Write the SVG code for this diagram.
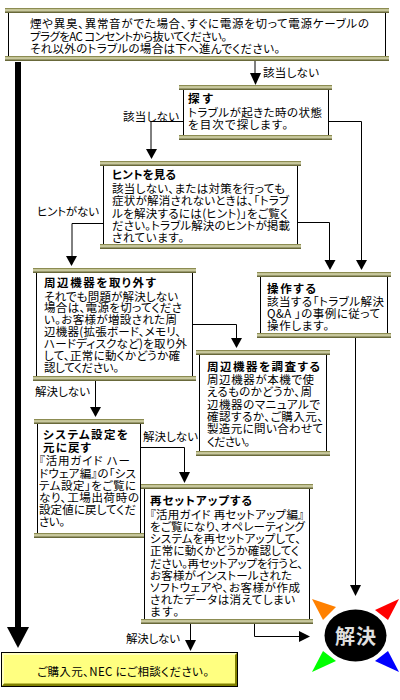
<svg xmlns="http://www.w3.org/2000/svg" width="400" height="700" viewBox="0 0 400 700">
<style>
text{font-family:"Noto Sans CJK JP","Liberation Sans",sans-serif;font-size:11.5px;fill:#000;dominant-baseline:central;font-feature-settings:"palt"}
.b{font-weight:700}
.box{fill:#fff;stroke:#000;stroke-width:1}
.bar{fill:url(#g);stroke:none}
.c{fill:none;stroke:#000;stroke-width:1}
</style>
<defs>
<linearGradient id="g" x1="0" y1="0" x2="0" y2="1"><stop offset="0" stop-color="#707030"/><stop offset=".4" stop-color="#e0e0b8"/><stop offset="1" stop-color="#505020"/></linearGradient>
</defs>
<rect width="400" height="700" fill="#fff"/>
<g id="connectors">
<path class="c" d="M255 60V75"/><path d="M250 73h11l-5.500 12z"/>
<path class="c" d="M183 121.500H151V150"/><path d="M146 149h11l-5.500 10z"/>
<path class="c" d="M328 121.500H361.500V261"/><path d="M356 260h11l-5.500 10z"/>
<path class="c" d="M297 222.500H329.500V261"/><path d="M324.500 260h11l-5.500 10z"/>
<path class="c" d="M103 223.500H72V257"/><path d="M66 256h11l-5.500 10z"/>
<path class="c" d="M192 324.500H236.500V339"/><path d="M231 338h11l-5.500 10z"/>
<path class="c" d="M95.500 381V408"/><path d="M90 407h11l-5.500 10z"/>
<path class="c" d="M140 447.500H184.500V473"/><path d="M179 472h11l-5.500 11z"/>
<path class="c" d="M355.500 337V586"/><path d="M350 585h11l-5.500 11z"/>
<path class="c" d="M190.500 623V641"/><path d="M185 640h11l-5.500 11z"/>
<path class="c" d="M254.500 623V636.500H300"/><path d="M299 631v11l11-5.500z"/>
<rect x="15" y="62" width="6" height="566" fill="#000"/><path d="M7 627h22l-11 21z"/>
</g>
<g id="n-top">
<rect class="box" x="8.500" y="10" width="377" height="48"/>
<rect class="bar" x="5" y="8" width="384" height="5"/><rect class="bar" x="5" y="56" width="384" height="5"/>
<text x="30" y="23" textLength="339">煙や異臭、異常音がでた場合、すぐに電源を切って電源ケーブルの</text>
<text x="30" y="35.500" textLength="197">プラグをAC コンセントから抜いてください。</text>
<text x="30" y="48" textLength="250">それ以外のトラブルの場合は下へ進んでください。</text>
</g>
<g id="n-search">
<rect class="box" x="183.500" y="87" width="145" height="50"/>
<rect class="bar" x="179" y="85" width="153" height="5"/><rect class="bar" x="179" y="135" width="153" height="5"/>
<text class="b" x="188" y="98" textLength="25">探す</text>
<text x="188" y="112" textLength="134">トラブルが起きた時の状態</text>
<text x="188" y="124" textLength="100">を目次で探します。</text>
</g>
<g id="n-hint">
<rect class="box" x="103.500" y="163" width="194" height="83"/>
<rect class="bar" x="100" y="161" width="201" height="5"/><rect class="bar" x="100" y="244" width="201" height="5"/>
<text class="b" x="112" y="174" textLength="64">ヒントを見る</text>
<text x="112" y="188" textLength="173">該当しない、または対策を行っても</text>
<text x="112" y="200" textLength="177">症状が解消されないときは、「トラブ</text>
<text x="112" y="212.500" textLength="176">ルを解決するには(ヒント)」をご覧く</text>
<text x="112" y="225" textLength="178">ださい。トラブル解決のヒントが掲載</text>
<text x="112" y="237" textLength="72">されています。</text>
</g>
<g id="n-remove">
<rect class="box" x="36.500" y="270" width="156" height="108"/>
<rect class="bar" x="33" y="268" width="163" height="5"/><rect class="bar" x="33" y="376" width="163" height="5"/>
<text class="b" x="44" y="282" textLength="112">周辺機器を取り外す</text>
<text x="44" y="295.500" textLength="134">それでも問題が解決しない</text>
<text x="44" y="307" textLength="138">場合は、電源を切ってくださ</text>
<text x="44" y="319" textLength="133">い。お客様が増設された周</text>
<text x="44" y="331" textLength="137">辺機器(拡張ボード、メモリ、</text>
<text x="44" y="343" textLength="143">ハードディスクなど)を取り外</text>
<text x="44" y="355" textLength="136">して、正常に動くかどうか確</text>
<text x="44" y="367" textLength="75">認してください。</text>
</g>
<g id="n-operate">
<rect class="box" x="260.500" y="274" width="127" height="61"/>
<rect class="bar" x="257" y="272" width="134" height="5"/><rect class="bar" x="257" y="333" width="134" height="5"/>
<text class="b" x="267" y="288" textLength="49">操作する</text>
<text x="267" y="301" textLength="117">該当する「トラブル解決</text>
<text x="267" y="313" textLength="113">Q&amp;A 」の事例に従って</text>
<text x="267" y="325" textLength="62">操作します。</text>
</g>
<g id="n-check">
<rect class="box" x="199.500" y="352" width="127" height="102"/>
<rect class="bar" x="196" y="350" width="134" height="5"/><rect class="bar" x="196" y="451" width="134" height="5"/>
<text class="b" x="207" y="366" textLength="113">周辺機器を調査する</text>
<text x="207" y="379" textLength="107">周辺機器が本機で使</text>
<text x="207" y="391" textLength="105">えるものかどうか、周</text>
<text x="207" y="403.500" textLength="113">辺機器のマニュアルで</text>
<text x="207" y="416" textLength="116">確認するか、ご購入元、</text>
<text x="207" y="428" textLength="116">製造元に問い合わせて</text>
<text x="207" y="440.500" textLength="43">ください。</text>
</g>
<g id="n-system">
<rect class="box" x="37.500" y="421" width="103" height="114"/>
<rect class="bar" x="34" y="419" width="110" height="5"/><rect class="bar" x="34" y="533" width="110" height="5"/>
<text class="b" x="43" y="434" textLength="85">システム設定を</text>
<text class="b" x="43" y="446.500" textLength="48">元に戻す</text>
<text x="39" y="460" textLength="91">『活用ガイド ハー</text>
<text x="39" y="472.500" textLength="97">ドウェア編』の「シス</text>
<text x="39" y="485" textLength="97">テム設定」をご覧に</text>
<text x="39" y="497" textLength="100">なり、工場出荷時の</text>
<text x="39" y="509" textLength="97">設定値に戻してくだ</text>
<text x="39" y="521" textLength="26">さい。</text>
</g>
<g id="n-reset">
<rect class="box" x="144.500" y="486" width="165" height="135"/>
<rect class="bar" x="141" y="484" width="172" height="5"/><rect class="bar" x="141" y="619" width="172" height="5"/>
<text class="b" x="150" y="500" textLength="102">再セットアップする</text>
<text x="150" y="514" textLength="154">『活用ガイド 再セットアップ編』</text>
<text x="150" y="526" textLength="155">をご覧になり、オペレーティング</text>
<text x="150" y="538" textLength="151">システムを再セットアップして、</text>
<text x="150" y="550" textLength="149">正常に動くかどうか確認してく</text>
<text x="150" y="562.500" textLength="153">ださい。再セットアップを行うと、</text>
<text x="150" y="575" textLength="142">お客様がインストールされた</text>
<text x="150" y="587" textLength="150">ソフトウェアや、お客様が作成</text>
<text x="150" y="599" textLength="145">されたデータは消えてしまい</text>
<text x="150" y="611" textLength="29">ます。</text>
</g>
<g id="n-contact">
<rect x="1.500" y="652.500" width="236" height="34" fill="#ffff80" stroke="#000"/>
<path d="M2 653h235l-2 2H4v29l-2 2z" fill="#ffffc0"/>
<path d="M237 653v33H2l2-2.500h231V655z" fill="#808000"/>
<rect x="1.500" y="652.500" width="236" height="34" fill="none" stroke="#000"/>
<text x="37" y="671" textLength="172">ご購入元、NEC にご相談ください。</text>
</g>
<g id="labels">
<text x="263" y="72" textLength="56">該当しない</text>
<text x="123" y="116" textLength="56">該当しない</text>
<text x="37" y="211" textLength="62">ヒントがない</text>
<text x="35" y="391" textLength="55">解決しない</text>
<text x="143" y="436" textLength="55">解決しない</text>
<text x="126" y="638" textLength="54">解決しない</text>
</g>
<g id="n-solved">
<polygon points="312,599 336,607 323,620" fill="#ff8000"/>
<polygon points="399,599 375,610 388,620" fill="#ff0000"/>
<polygon points="312,672 336,661 323,651" fill="#00ff00"/>
<polygon points="399,672 375,661 388,651" fill="#0000ff"/>
<ellipse cx="355.500" cy="635.500" rx="31" ry="26" fill="#000"/>
<text class="b" x="335" y="635" textLength="41" style="font-size:20px;fill:#e0e0e0">解決</text>
</g>
</svg>
